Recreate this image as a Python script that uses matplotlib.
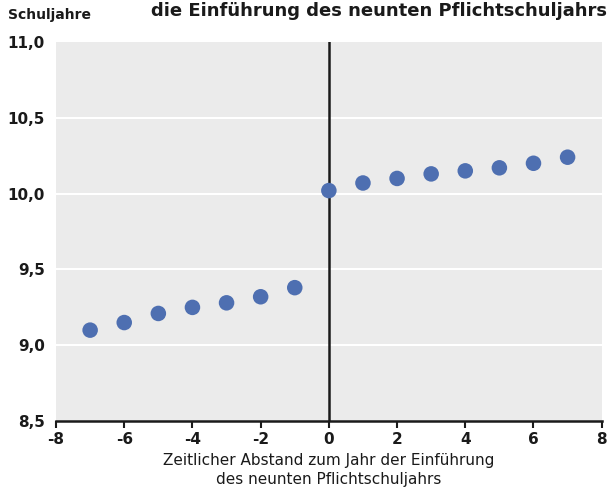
import matplotlib
matplotlib.use('Agg')
import matplotlib.pyplot as plt

plt.rcParams['font.family'] = ['DejaVu Sans']

# data
years_rel = [-7, -6, -5, -4, -3, -2, -1, 0, 1, 2, 3, 4, 5, 6, 7]
schuljahre = [9.10, 9.15, 9.21, 9.25, 9.28, 9.32, 9.38,
              10.02, 10.07, 10.10, 10.13, 10.15, 10.17, 10.20, 10.24]
x_ticks = [-8, -6, -4, -2, 0, 2, 4, 6, 8]
y_ticks = [8.5, 9.0, 9.5, 10.0, 10.5, 11.0]

fig = plt.figure(figsize=(6.09, 4.99), dpi=100)
ax = fig.add_axes([0.092, 0.156, 0.896, 0.76])
ax.set_facecolor('#ebebeb')

ax.set_xlim(-8, 8)
ax.set_ylim(8.5, 11.0)

for y in y_ticks[1:-1]:
    ax.axhline(y, color='white', lw=1.5, zorder=1)
ax.axvline(0, color='#1a1a1a', lw=1.8, zorder=2)

ax.scatter(years_rel, schuljahre, s=125, color='#4e6fb1', zorder=3, edgecolors='none')

for side in ['top', 'right', 'left']:
    ax.spines[side].set_visible(False)
ax.spines['bottom'].set_color('#1a1a1a')
ax.spines['bottom'].set_linewidth(1.8)

ax.set_xticks(x_ticks)
ax.set_xticklabels([str(v) for v in x_ticks])
ax.set_yticks(y_ticks)
ax.set_yticklabels([('%.1f' % v).replace('.', ',') for v in y_ticks])
ax.tick_params(axis='x', direction='out', length=5, width=1.5, color='#1a1a1a',
               labelsize=11, pad=3, labelcolor='#1a1a1a')
ax.tick_params(axis='y', length=0, labelsize=11, pad=8, labelcolor='#1a1a1a')
for lab in ax.get_xticklabels() + ax.get_yticklabels():
    lab.set_fontweight('bold')

ax.set_xlabel('Zeitlicher Abstand zum Jahr der Einführung\ndes neunten Pflichtschuljahrs',
              fontsize=11, color='#1a1a1a', linespacing=1.35, labelpad=4)

fig.text(0.013, 0.962, 'Schuljahre', fontsize=10, fontweight='bold',
         color='#1a1a1a', va='baseline')
fig.text(0.997, 0.968, 'die Einführung des neunten Pflichtschuljahrs', fontsize=13,
         fontweight='bold', color='#1a1a1a', ha='right', va='baseline')

fig.savefig('out.png', dpi=100)
